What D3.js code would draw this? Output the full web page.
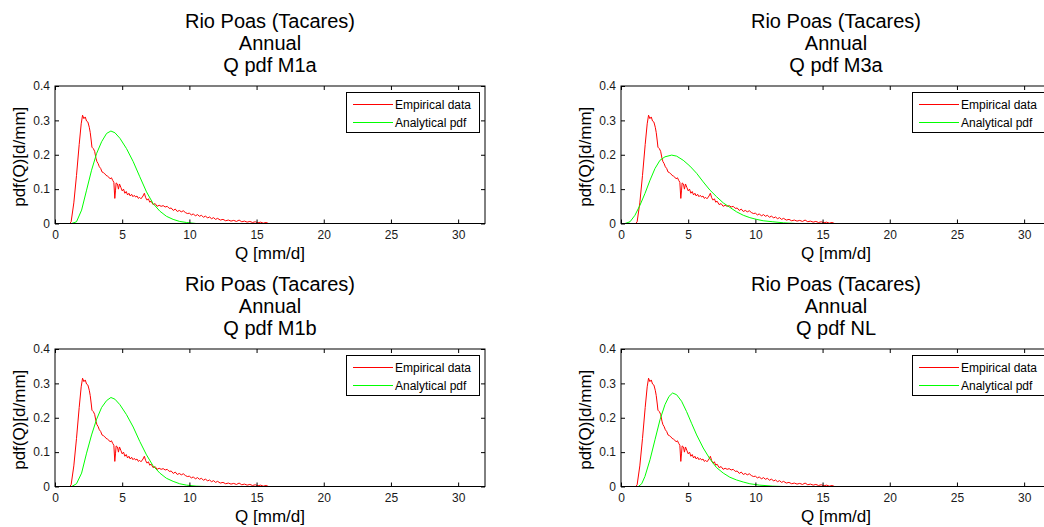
<!DOCTYPE html>
<html><head><meta charset="utf-8">
<script src="https://cdn.jsdelivr.net/npm/d3@7"></script>
<style>
html,body{margin:0;padding:0;background:#fff;}
svg{display:block;font-family:"Liberation Sans",Arial,sans-serif;}
</style></head>
<body><svg id="c" width="1044" height="527"></svg>
<script>
const stationTitle = "Rio Poas (Tacares)";
const periodTitle = "Annual";
const modelNames = ["M1a", "M3a", "M1b", "NL"];
const xTicks = [0, 5, 10, 15, 20, 25, 30];
const yTicks = [0, 0.1, 0.2, 0.3, 0.4];
const legendLabels = ["Empirical data", "Analytical pdf"];

// Empirical pdf (same in every panel): [Q, pdf]
const empirical = [[0,0],[1.1,0],[1.2,0.005],[1.4,0.06],[1.6,0.14],[1.8,0.23],[1.95,0.29],[2.05,0.315],[2.15,0.305],[2.25,0.31],[2.35,0.298],[2.45,0.295],[2.55,0.28],[2.62,0.265],[2.7,0.24],[2.75,0.222],[2.85,0.218],[2.95,0.21],[3.05,0.19],[3.12,0.18],[3.2,0.175],[3.3,0.165],[3.4,0.16],[3.5,0.15],[3.6,0.148],[3.7,0.145],[3.8,0.14],[3.9,0.138],[4.0,0.135],[4.1,0.13],[4.2,0.133],[4.3,0.125],[4.38,0.12],[4.45,0.073],[4.5,0.095],[4.55,0.118],[4.65,0.115],[4.72,0.1],[4.8,0.115],[4.9,0.105],[5.0,0.095],[5.1,0.1],[5.2,0.088],[5.3,0.093],[5.4,0.083],[5.5,0.088],[5.6,0.08],[5.7,0.085],[5.8,0.078],[5.9,0.082],[6.0,0.077],[6.1,0.08],[6.2,0.073],[6.3,0.076],[6.4,0.072],[6.55,0.08],[6.65,0.088],[6.75,0.075],[6.85,0.068],[6.95,0.072],[7.05,0.062],[7.15,0.065],[7.3,0.055],[7.45,0.058],[7.6,0.05],[7.75,0.053],[7.9,0.05],[8.05,0.052],[8.2,0.048],[8.35,0.05],[8.5,0.044],[8.65,0.045],[8.8,0.038],[8.95,0.042],[9.1,0.035],[9.25,0.038],[9.4,0.034],[9.55,0.037],[9.7,0.032],[9.85,0.029],[10.0,0.03],[10.15,0.025],[10.3,0.028],[10.45,0.022],[10.6,0.026],[10.75,0.021],[10.9,0.024],[11.05,0.018],[11.2,0.022],[11.35,0.016],[11.5,0.019],[11.65,0.014],[11.8,0.017],[11.95,0.012],[12.1,0.015],[12.3,0.01],[12.5,0.012],[12.7,0.008],[12.9,0.01],[13.1,0.007],[13.3,0.009],[13.5,0.006],[13.7,0.01],[13.9,0.005],[14.1,0.007],[14.3,0.004],[14.5,0.006],[14.7,0.003],[14.9,0.005],[15.1,0.002],[15.3,0.004],[15.5,0.001],[15.7,0.003],[15.9,0],[32,0]];

// Analytical pdfs: [Q, pdf]
const analyticalM1a = [[0,0],[1.24,0],[1.6,0.005],[1.98,0.039],[2.35,0.097],[2.72,0.155],[3.1,0.204],[3.47,0.238],[3.84,0.262],[4.16,0.269],[4.46,0.264],[4.83,0.248],[5.32,0.218],[5.82,0.18],[6.31,0.136],[6.81,0.092],[7.3,0.058],[7.8,0.036],[8.29,0.021],[8.79,0.012],[9.28,0.006],[9.78,0.003],[10.5,0],[30,0]];
const analyticalM3a = [[0,0],[0.3,0],[0.67,0.005],[1.04,0.024],[1.41,0.053],[1.78,0.087],[2.16,0.126],[2.53,0.16],[2.9,0.184],[3.27,0.194],[3.77,0.199],[4.14,0.196],[4.63,0.184],[5.13,0.167],[5.63,0.146],[6.12,0.121],[6.62,0.097],[7.11,0.078],[7.61,0.06],[8.1,0.047],[8.6,0.034],[9.1,0.024],[9.59,0.017],[10.09,0.012],[10.58,0.008],[11.3,0.005],[12.1,0.002],[13,0],[30,0]];
const analyticalM1b = [[0,0],[1.24,0],[1.6,0.008],[1.98,0.039],[2.35,0.097],[2.72,0.15],[3.1,0.196],[3.47,0.23],[3.84,0.25],[4.16,0.259],[4.46,0.254],[4.83,0.238],[5.32,0.209],[5.82,0.173],[6.31,0.131],[6.81,0.092],[7.3,0.06],[7.8,0.039],[8.29,0.024],[8.79,0.015],[9.28,0.008],[9.78,0.004],[10.5,0.001],[11.3,0],[30,0]];
const analyticalNL = [[0,0],[1.29,0],[1.54,0.008],[1.78,0.029],[2.16,0.078],[2.53,0.136],[2.9,0.194],[3.27,0.238],[3.57,0.262],[3.84,0.272],[4.14,0.267],[4.51,0.248],[4.88,0.218],[5.25,0.184],[5.63,0.15],[6.12,0.112],[6.62,0.08],[7.11,0.055],[7.61,0.039],[8.1,0.027],[8.6,0.019],[9.1,0.013],[9.59,0.008],[10.3,0.004],[11.3,0.001],[12.1,0],[30,0]];
const analyticalSeries = [analyticalM1a, analyticalM3a, analyticalM1b, analyticalNL];

const svg = d3.select("#c");
const panels = [
  {left:55, top:86, model:0},
  {left:621, top:86, model:1},
  {left:55, top:349, model:2},
  {left:621, top:349, model:3}
];
const PW = 430, PH = 137.5;
const txtCol = "#1a1a1a";

panels.forEach((p, i) => {
  const g = svg.append("g").attr("transform", `translate(${p.left},${p.top})`);
  const x = d3.scaleLinear().domain([0, 32]).range([0, PW]);
  const y = d3.scaleLinear().domain([0, 0.4]).range([PH, 0]);

  g.append("rect").attr("width", PW).attr("height", PH).attr("fill", "#fff");

  const clipId = "clip" + i;
  g.append("clipPath").attr("id", clipId).append("rect").attr("width", PW).attr("height", PH + 1).attr("y", -0.5);

  const lineGen = d3.line().x(d => x(d[0])).y(d => y(d[1]));
  const lines = g.append("g").attr("clip-path", `url(#${clipId})`);
  lines.append("path").datum(empirical).attr("d", lineGen)
    .attr("fill", "none").attr("stroke", "#ff0000").attr("stroke-width", 1);
  lines.append("path").datum(analyticalSeries[p.model]).attr("d", lineGen)
    .attr("fill", "none").attr("stroke", "#00ff00").attr("stroke-width", 1);

  // axes (ticks inside)
  const axB = d3.axisBottom(x).tickValues(xTicks).tickSizeInner(-4).tickSizeOuter(0).tickPadding(7).tickFormat(d3.format("d"));
  const axT = d3.axisTop(x).tickValues(xTicks).tickSizeInner(-4).tickSizeOuter(0).tickFormat("");
  const axL = d3.axisLeft(y).tickValues(yTicks).tickSizeInner(-4).tickSizeOuter(0).tickPadding(5).tickFormat(d => d === 0 ? "0" : d3.format(".1f")(d));
  const axR = d3.axisRight(y).tickValues(yTicks).tickSizeInner(-4).tickSizeOuter(0).tickFormat("");
  [ [axB, `translate(0,${PH})`], [axT, null], [axL, null], [axR, `translate(${PW},0)`] ].forEach(([ax, tr]) => {
    const a = g.append("g").call(ax);
    if (tr) a.attr("transform", tr);
    a.select(".domain").remove();
    a.selectAll("line").attr("stroke", "#000").attr("stroke-width", 1);
    a.selectAll("text").attr("font-size", 12).attr("fill", txtCol).attr("font-family", "Liberation Sans, Arial, sans-serif");
  });
  g.append("rect").attr("width", PW).attr("height", PH).attr("fill", "none").attr("stroke", "#000").attr("stroke-width", 1);

  // titles
  const tl = [stationTitle, periodTitle, "Q pdf " + modelNames[p.model]];
  tl.forEach((t, k) => {
    g.append("text").attr("x", PW / 2).attr("y", -58 + k * 22)
      .attr("text-anchor", "middle").attr("font-size", 20).attr("fill", "#000").text(t);
  });

  // axis labels
  g.append("text").attr("x", PW / 2).attr("y", PH + 35).attr("text-anchor", "middle")
    .attr("font-size", 17).attr("fill", "#000").text("Q [mm/d]");
  g.append("text").attr("transform", `translate(-30,${PH / 2 + 2}) rotate(-90)`).attr("text-anchor", "middle")
    .attr("font-size", 17).attr("fill", "#000").text("pdf(Q)[d/mm]");

  // legend
  const lg = g.append("g").attr("transform", `translate(${PW - 139},6)`);
  lg.append("rect").attr("x", 0.5).attr("y", 0.5).attr("width", 133).attr("height", 40).attr("fill", "#fff").attr("stroke", "#000").attr("stroke-width", 1);
  const cols = ["#ff0000", "#00ff00"];
  legendLabels.forEach((lab, k) => {
    const yy = Math.round(12 + k * 17.5) + 0.5;
    lg.append("line").attr("x1", 7).attr("x2", 47).attr("y1", yy).attr("y2", yy).attr("stroke", cols[k]).attr("stroke-width", 1);
    lg.append("text").attr("x", 49).attr("y", yy + 4).attr("font-size", 12).attr("fill", "#000").text(lab);
  });
});
</script></body></html>
